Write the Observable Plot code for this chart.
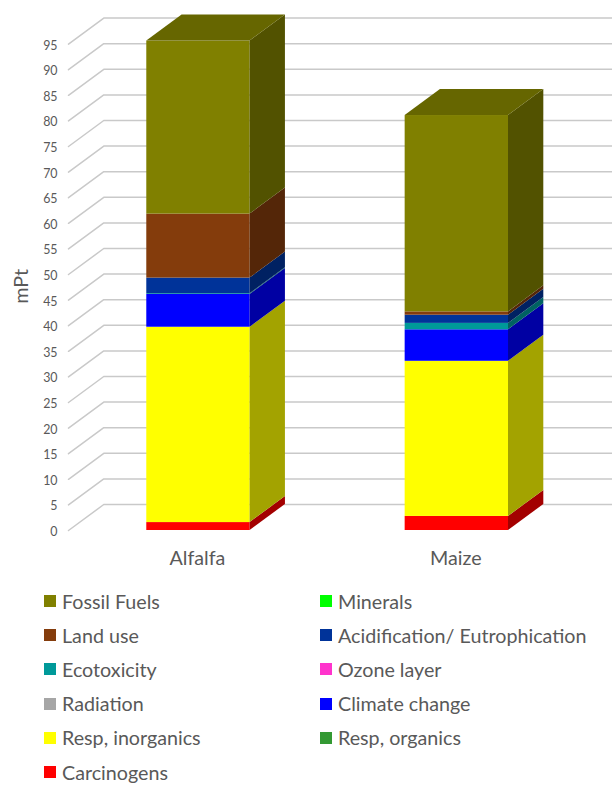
<!DOCTYPE html>
<html><head><meta charset="utf-8">
<script src="https://cdn.jsdelivr.net/npm/d3@7"></script>
<script src="https://cdn.jsdelivr.net/npm/@observablehq/plot@0.6"></script>
<style>
html,body{margin:0;padding:0;background:#fff;overflow:hidden}
svg{display:block}
#legend{display:grid;grid-template-columns:276px 1fr;grid-auto-rows:34.2px;padding-left:44px;margin-top:-1px;font-family:Lato,sans-serif;font-size:19.7px;color:#595959}
#legend div{display:flex;align-items:center;white-space:nowrap}
#legend i{display:inline-block;width:12px;height:12px;margin-right:6px;flex:none}
</style></head><body>
<div id="chart"></div><div id="legend"></div>
<script>
const categories = ["Alfalfa", "Maize"];
// bottom-to-top stack order
const impacts = ["Carcinogens","Resp, organics","Resp, inorganics","Climate change","Radiation","Ozone layer","Ecotoxicity","Acidification/ Eutrophication","Land use","Minerals","Fossil Fuels"];
const impactColors = ["#ff0000","#339933","#ffff00","#0000ff","#a6a6a6","#ff33cc","#009999","#003399","#843c0c","#00ff00","#808000"];
const alfalfaValues = [1.55,0,38.15,6.4,0,0,0.15,3.05,12.5,0,33.8];
const maizeValues = [2.75,0,30.3,6.15,0,0,1.25,1.6,0.65,0,38.35];
const legendOrder = ["Fossil Fuels","Minerals","Land use","Acidification/ Eutrophication","Ecotoxicity","Ozone layer","Radiation","Climate change","Resp, inorganics","Resp, organics","Carcinogens"];
const yTicks = d3.range(0,100,5);

const barHalf = 0.2, depthX = 0.1366, depthY = 5.08, wallLeft = -0.503, xRight = 1.6025;
const shade = (c,k)=>{const r=d3.rgb(c);return d3.rgb(r.r*k,r.g*k,r.b*k).formatHex();};

const fronts=[], sides=[], tops=[];
[alfalfaValues,maizeValues].forEach((vals,ci)=>{
  let base=0;
  vals.forEach((v,i)=>{
    if(!v) return;
    const top=base+v, c=impactColors[i], xr=ci+barHalf, key=ci+"-"+i;
    fronts.push({x1:ci-barHalf,x2:xr,y1:base,y2:top,fill:c});
    sides.push({x:xr,y1:base,y2:top,key,fill:shade(c,0.64)},{x:xr+depthX,y1:base+depthY,y2:top+depthY,key,fill:shade(c,0.64)});
    base=top;
  });
  const last=impactColors[vals.findLastIndex(v=>v>0)], xl=ci-barHalf, xr=ci+barHalf, f=shade(last,0.8);
  tops.push(
    {x:xl,y1:base,y2:base,key:ci,fill:f},
    {x:xl+depthX,y1:base,y2:base+depthY,key:ci,fill:f},
    {x:xr,y1:base,y2:base+depthY,key:ci,fill:f},
    {x:xr+depthX,y1:base+depthY,y2:base+depthY,key:ci,fill:f});
});

const grid="#c9c9c9";
const plot = Plot.plot({
  width:612,height:585,marginTop:0,marginLeft:68,marginRight:0,marginBottom:55,
  style:{fontFamily:"Lato,sans-serif",color:"#595959",background:"#fff"},
  x:{domain:[wallLeft,xRight]},
  y:{domain:[0,530/5.12]},
  color:{type:"identity"},
  marks:[
    Plot.axisY({ticks:yTicks,tickSize:0,tickPadding:11,dy:1.5,label:null,fontSize:12.4,fill:"#595959"}),
    Plot.axisX({ticks:[0,1],tickFormat:i=>categories[i],tickSize:0,tickPadding:20,dx:-1,label:null,fontSize:19.7,fill:"#595959"}),
    Plot.text(["mPt"],{x:wallLeft,y:47.7,dx:-47,rotate:-90,fontSize:19.7,fill:"#595959"}),
    ...yTicks.map(t=>Plot.line([[wallLeft,t],[wallLeft+depthX,t+depthY],[xRight,t+depthY]],{stroke:grid,strokeWidth:1.5})),
    Plot.rect(fronts,{x1:"x1",x2:"x2",y1:"y1",y2:"y2",fill:"fill"}),
    Plot.areaY(sides,{x:"x",y1:"y1",y2:"y2",z:"key",fill:"fill"}),
    Plot.areaY(tops,{x:"x",y1:"y1",y2:"y2",z:"key",fill:"fill"})
  ]
});
document.getElementById("chart").append(plot);
const lg=document.getElementById("legend");
legendOrder.forEach(n=>{
  const d=document.createElement("div"),s=document.createElement("i");
  s.style.background=impactColors[impacts.indexOf(n)];
  d.append(s,n);lg.append(d);
});
</script></body></html>
